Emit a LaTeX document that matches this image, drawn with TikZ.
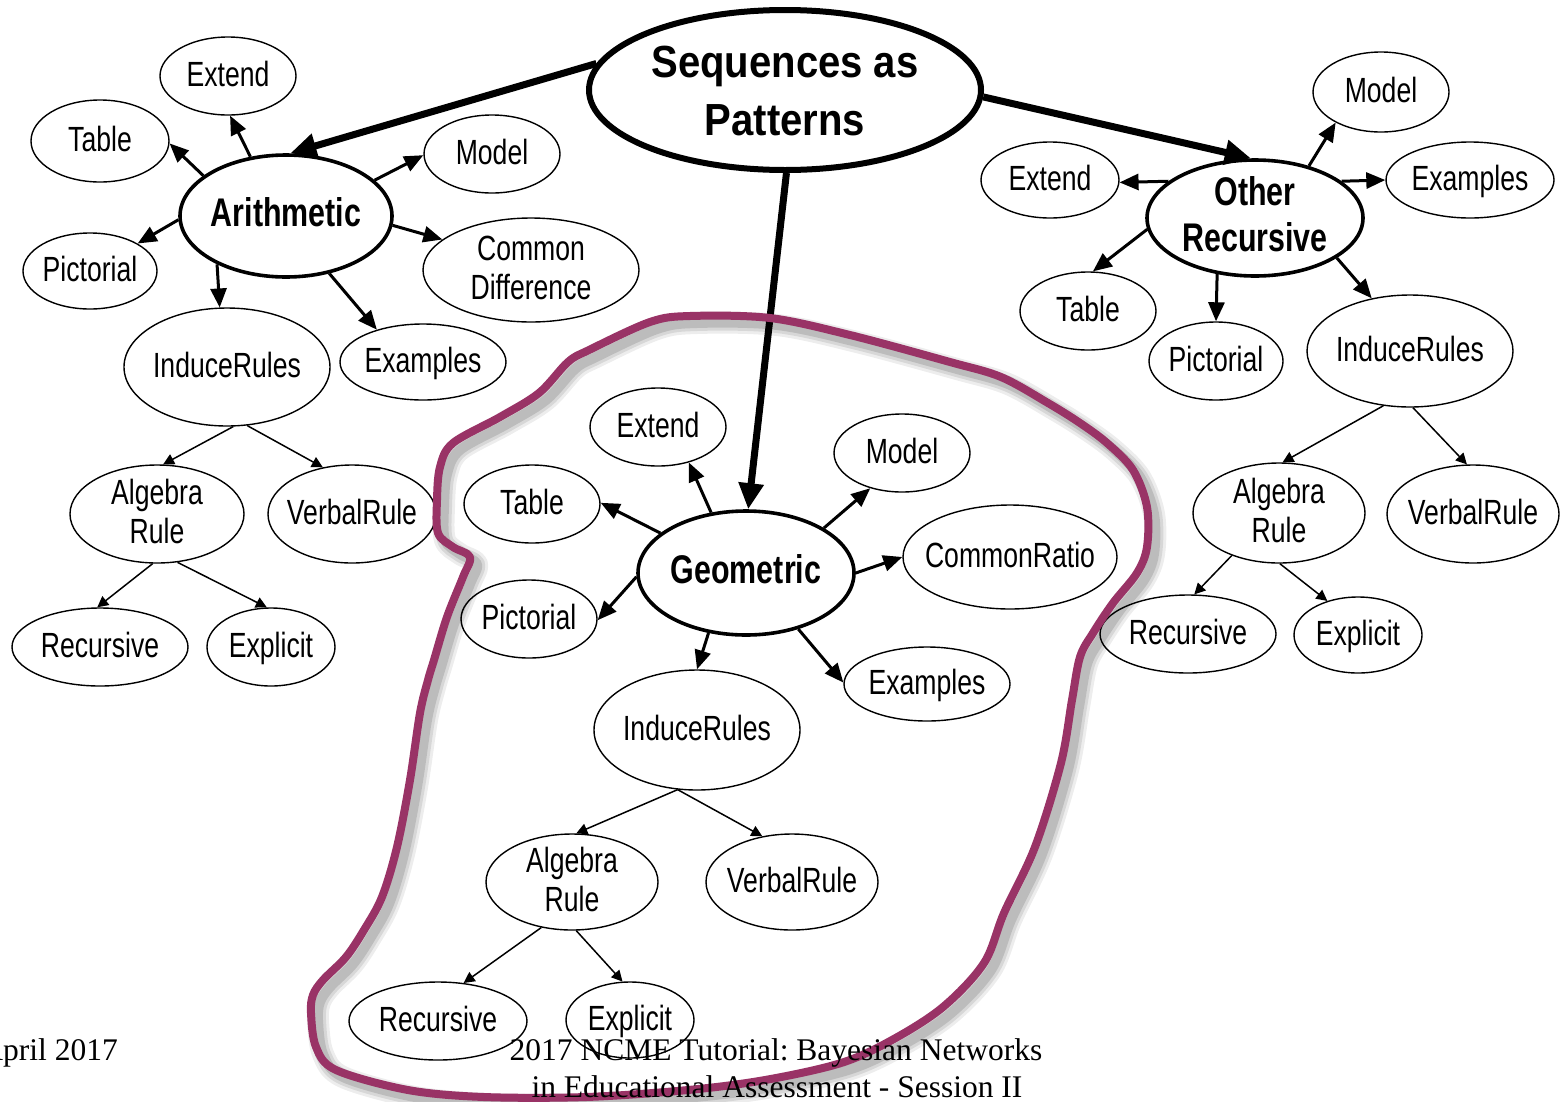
\documentclass[tikz,border=0pt]{standalone}
\usepackage{fontspec}
\setmainfont{Liberation Sans}
\newfontfamily\leafface[FakeStretch=0.76]{Liberation Sans}
\newfontfamily\titleface[FakeStretch=0.89]{Liberation Sans}
\newfontfamily\footface{Liberation Serif}
\usetikzlibrary{shapes.geometric,arrows.meta}
\frenchspacing

\definecolor{loopplum}{RGB}{153,51,102}

% each font command also sets how far its label is lowered to sit centred
\newcommand\leaffont{\leafface\fontsize{35}{39}\selectfont\def\lblraise{-8.5pt}}
\newcommand\hubfont{\leafface\bfseries\fontsize{40}{46}\selectfont\def\lblraise{-7.2pt}}
\newcommand\rootfont{\titleface\bfseries\fontsize{45}{58}\selectfont\def\lblraise{-11pt}}
\newcommand\footfont{\footface\fontsize{31.5}{37}\selectfont}
% centred label that does not widen the ellipse
\newcommand\lbl[1]{\makebox[0pt]{\smash{\raisebox{\lblraise}{\begin{tabular}{@{}c@{}}#1\end{tabular}}}}}

\begin{document}
\begin{tikzpicture}[x=1pt,y=-1pt,
  sz/.style 2 args={minimum width={2*#1}, minimum height={2*#2}},
  leaf/.style={ellipse, draw, line width=1.4pt, inner sep=0pt, font=\leaffont},
  hub/.style={ellipse, draw, line width=3.6pt, inner sep=0pt, font=\hubfont},
  root/.style={ellipse, draw, line width=6pt, inner sep=0pt, font=\rootfont},
  trunk/.style={line width=7pt, -{Triangle[length=26pt,width=24pt]}},
  branch/.style={line width=3pt, -{Triangle[length=19pt,width=16pt]}},
  twig/.style={line width=1.5pt, -{Triangle[length=11pt,width=11pt]}},
  loopline/.style={draw=loopplum, line width=8pt, line join=round},
  loopshade/.style={draw=black, line join=round}
]
\clip (0,0) rectangle (1563,1101);
\fill[white] (0,0) rectangle (1563,1101);

% ---------- root ----------
\node[root, sz={196}{80}] (seq) at (785,90) {\lbl{Sequences as\\Patterns}};

% ---------- arithmetic branch ----------
\node[hub,  sz={106}{61}] (ar)      at (286,216) {\lbl{Arithmetic}};
\node[leaf, sz={68}{39}]  (arext)   at (228,76)  {\lbl{Extend}};
\node[leaf, sz={69}{41}]  (artab)   at (100,141) {\lbl{Table}};
\node[leaf, sz={68}{39}]  (armod)   at (492,154) {\lbl{Model}};
\node[leaf, sz={67}{38}]  (arpic)   at (90,271)  {\lbl{Pictorial}};
\node[leaf, sz={108}{52}] (arcd)    at (531,270) {\lbl{Common\\Difference}};
\node[leaf, sz={103}{59}] (arir)    at (227,367) {\lbl{InduceRules}};
\node[leaf, sz={83}{38}]  (arex)    at (423,362) {\lbl{Examples}};
\node[leaf, sz={87}{49}]  (aralg)   at (157,514) {\lbl{Algebra\\Rule}};
\node[leaf, sz={84}{49}]  (arvr)    at (352,514) {\lbl{VerbalRule}};
\node[leaf, sz={88}{39}]  (arrec)   at (100,647) {\lbl{Recursive}};
\node[leaf, sz={64}{39}]  (arexp)   at (271,647) {\lbl{Explicit}};

% ---------- other recursive branch ----------
\node[hub,  sz={108}{58}] (or)      at (1255,218) {\lbl{Other\\Recursive}};
\node[leaf, sz={68}{40}]  (ormod)   at (1381,92)  {\lbl{Model}};
\node[leaf, sz={69}{38}]  (orext)   at (1050,180) {\lbl{Extend}};
\node[leaf, sz={84}{38}]  (orex)    at (1470,180) {\lbl{Examples}};
\node[leaf, sz={68}{39}]  (ortab)   at (1088,311) {\lbl{Table}};
\node[leaf, sz={67}{39}]  (orpic)   at (1216,361) {\lbl{Pictorial}};
\node[leaf, sz={103}{56}] (orir)    at (1410,351) {\lbl{InduceRules}};
\node[leaf, sz={86}{50}]  (oralg)   at (1279,513) {\lbl{Algebra\\Rule}};
\node[leaf, sz={86}{49}]  (orvr)    at (1473,514) {\lbl{VerbalRule}};
\node[leaf, sz={88}{39}]  (orrec)   at (1188,634) {\lbl{Recursive}};
\node[leaf, sz={64}{38}]  (orexp)   at (1358,635) {\lbl{Explicit}};

% ---------- geometric branch ----------
\node[hub,  sz={108}{62}] (ge)      at (746,573)  {\lbl{Geometric}};
\node[leaf, sz={68}{39}]  (geext)   at (658,427)  {\lbl{Extend}};
\node[leaf, sz={68}{39}]  (gemod)   at (902,453)  {\lbl{Model}};
\node[leaf, sz={68}{39}]  (getab)   at (532,504)  {\lbl{Table}};
\node[leaf, sz={107}{52}] (gecr)    at (1010,557) {\lbl{CommonRatio}};
\node[leaf, sz={68}{39}]  (gepic)   at (529,619)  {\lbl{Pictorial}};
\node[leaf, sz={83}{37}]  (geex)    at (927,684)  {\lbl{Examples}};
\node[leaf, sz={103}{60}] (geir)    at (697,730)  {\lbl{InduceRules}};
\node[leaf, sz={86}{48}]  (gealg)   at (572,882)  {\lbl{Algebra\\Rule}};
\node[leaf, sz={86}{48}]  (gevr)    at (792,882)  {\lbl{VerbalRule}};
\node[leaf, sz={89}{39}]  (gerec)   at (438,1021) {\lbl{Recursive}};
\node[leaf, sz={64}{38}]  (geexp)   at (630,1020) {\lbl{Explicit}};

% ---------- root connectors ----------
\draw[trunk] (seq.172) -- (ar.86);
\draw[trunk] (seq.-2)  -- (or.94);
\draw[trunk] (seq.271) -- (ge.88);

% ---------- arithmetic connectors ----------
\draw[branch] (ar.121) -- (arext.273);
\draw[branch] (ar.154) -- (artab.-2);
\draw[branch] (ar.22)  -- (armod.181);
\draw[branch] (ar.182) -- (arpic.30);
\draw[branch] (ar.-5)  -- (arcd.161);
\draw[branch] (ar.215) -- (arir.97);
\draw[branch] (ar.-53) -- (arex.145);
\draw[twig] (arir.-84) -- (aralg.83);
\draw[twig] (arir.-71) -- (arvr.122);
\draw[twig] (aralg.265) -- (arrec.94);
\draw[twig] (aralg.-67) -- (arexp.96);

% ---------- other recursive connectors ----------
\draw[branch] (or.44)  -- (ormod.214);
\draw[branch] (or.157) -- (orext.-2);
\draw[branch] (or.23)  -- (orex.180);
\draw[branch] (or.186) -- (ortab.83);
\draw[branch] (or.236) -- (orpic.90);
\draw[branch] (or.-26) -- (orir.126);
\draw[twig] (orir.244) -- (oralg.86);
\draw[twig] (orir.-87) -- (orvr.97);
\draw[twig] (oralg.222) -- (orrec.81);
\draw[twig] (oralg.-89) -- (orexp.132);

% ---------- geometric connectors ----------
\draw[branch] (ge.120) -- (geext.-49);
\draw[branch] (ge.155) -- (getab.1);
\draw[branch] (ge.30)  -- (gemod.228);
\draw[branch] (ge.0)   -- (gecr.180);
\draw[branch] (ge.182) -- (gepic.-1);
\draw[branch] (ge.238) -- (geir.90);
\draw[branch] (ge.-47) -- (geex.179);
\draw[twig] (geir.252) -- (gealg.85);
\draw[twig] (geir.-108) -- (gevr.123);
\draw[twig] (gealg.236) -- (gerec.56);
\draw[twig] (gealg.-85) -- (geexp.101);

% ---------- hand-drawn loop round the geometric branch ----------
\def\looppath{plot[smooth cycle, tension=0.55] coordinates {
  (690,316) (770,318) (850,335) (950,362) (1001,377) (1048,403) (1080,423)
  (1107,443) (1133,470) (1147,507) (1147,547) (1137,573) (1113,603) (1093,633)
  (1080,657) (1072,700) (1061,763) (1035,847) (1004,913) (984,963) (943,1007)
  (892,1040) (841,1063) (765,1080) (688,1090) (586,1097) (484,1097) (408,1090)
  (336,1070) (316,1047) (311,1013) (313,995) (323,980) (346,957) (364,930)
  (382,897) (397,847) (410,780) (420,713) (428,680) (434,660) (447,617)
  (463,577) (470,557) (453,547) (438,533) (437,500) (440,467) (453,443)
  (500,417) (539,393) (568,362) (589,350) (650,322)}}
\begin{scope}[shift={(7,7)}]
  \draw[loopshade, line width=22pt, opacity=0.07] \looppath;
  \draw[loopshade, line width=16pt, opacity=0.09] \looppath;
  \draw[loopshade, line width=10pt, opacity=0.12] \looppath;
\end{scope}
\draw[loopline] \looppath;

% ---------- slide footer ----------
\node[anchor=base east, font=\footfont, inner sep=0pt] (date) at (118,1060) {April 2017};
\node[anchor=base, font=\footfont, inner sep=0pt] (title1) at (776,1060) {2017 NCME Tutorial: Bayesian Networks};
\node[anchor=base, font=\footfont, inner sep=0pt] (title2) at (777,1097) {in Educational Assessment - Session II};
\end{tikzpicture}
\end{document}
